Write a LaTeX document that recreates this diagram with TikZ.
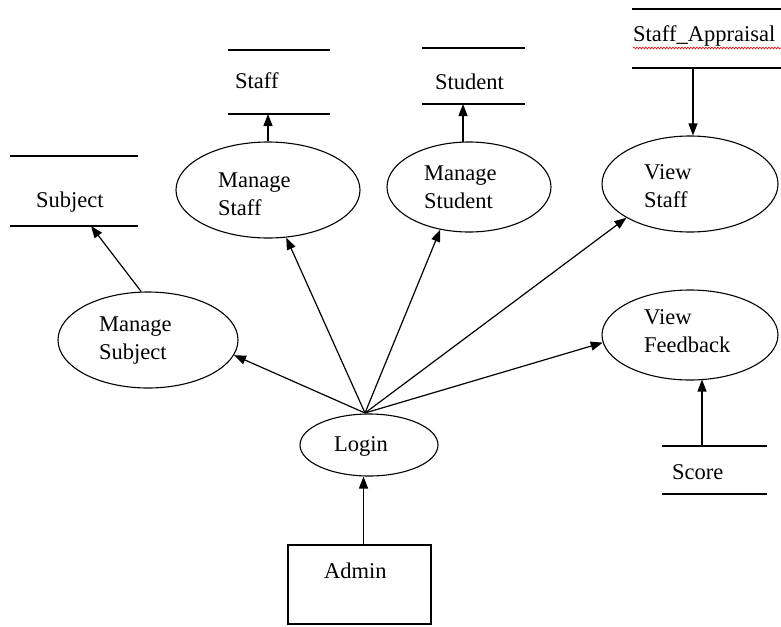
\documentclass[tikz,border=0pt]{standalone}
\usepackage{fontspec}
\setmainfont{Liberation Serif}
\usetikzlibrary{shapes.geometric,arrows.meta,decorations.pathmorphing}
\begin{document}
\begin{tikzpicture}[x=1pt,y=-1pt,
  proc/.style={draw, line width=1.1pt, ellipse, inner sep=0pt},
  lbl/.style={font=\fontsize{22.5}{28}\selectfont, align=left, inner sep=0pt, anchor=west},
  store/.style={line width=1.3pt},
  flow/.style={line width=1.2pt, -{Triangle[length=12pt,width=9pt]}}]
\useasboundingbox (0,0) rectangle (781,626);

% data stores
\draw[store] (10,156) -- (138,156) (10,226) -- (138,226);
\node[lbl] (subject) at (36,202) {Subject};
\coordinate (subjectB) at (91,226);

\draw[store] (228,50) -- (330,50) (228,114) -- (330,114);
\node[lbl] (staff) at (235,81) {Staff};
\coordinate (staffB) at (268,114);

\draw[store] (422,48) -- (525,48) (422,104) -- (525,104);
\node[lbl] (student) at (435,82) {Student};
\coordinate (studentB) at (463,104);

\draw[store] (632,9) -- (781,9) (632,68) -- (781,68);
\node[lbl] (appraisal) at (633,36) {Staff\_Appraisal};
\draw[red, line width=0.6pt, decorate, decoration={snake, amplitude=0.9pt, segment length=3pt}] (633,48) -- (781,48);
\coordinate (appraisalB) at (693,68);

\draw[store] (662,446) -- (767,446) (662,494) -- (767,494);
\node[lbl] (score) at (672,472) {Score};
\coordinate (scoreT) at (702,446);

% processes
\node[proc, minimum width=184pt, minimum height=96pt] (mstaff) at (268,190) {};
\node[lbl] at (218,194) {Manage\\Staff};

\node[proc, minimum width=164pt, minimum height=90pt] (mstudent) at (469,187) {};
\node[lbl] at (424,187) {Manage\\Student};

\node[proc, minimum width=176pt, minimum height=96pt] (vstaff) at (690,184) {};
\node[lbl] at (644,186) {View\\Staff};

\node[proc, minimum width=180pt, minimum height=96pt] (msubject) at (148,340) {};
\node[lbl] at (99,341) {Manage\\Subject};

\node[proc, minimum width=176pt, minimum height=90pt] (vfeed) at (690,335) {};
\node[lbl] at (644,331) {View\\Feedback};

\node[proc, minimum width=138pt, minimum height=62pt] (login) at (369,445) {};
\node[lbl] at (334,446) {Login};

\node[draw, line width=1.3pt, minimum width=143pt, minimum height=79pt, inner sep=0pt] (admin) at (359.5,584.5) {};
\node[lbl] at (324,571) {Admin};

% flows
\coordinate (hub) at (365,413);
\coordinate (adminT) at ([xshift=4pt]admin.north);
\draw[flow] (adminT) -- (adminT |- login.south);
\draw[flow] (hub) -- (msubject.-10);
\draw[flow] (hub) -- (mstaff.-69);
\draw[flow] (hub) -- (mstudent.-124);
\draw[flow] (hub) -- (vstaff.-152);
\draw[flow] (hub) -- (vfeed.185);
\draw[flow] (msubject.98) -- (subjectB);
\draw[flow] (staffB |- mstaff.north) -- (staffB);
\draw[flow] ([yshift=-1pt]studentB |- mstudent.north) -- (studentB);
\draw[flow] (appraisalB) -- (appraisalB |- vstaff.north);
\draw[flow] (scoreT) -- ([yshift=1pt]scoreT |- vfeed.south);
\end{tikzpicture}
\end{document}
